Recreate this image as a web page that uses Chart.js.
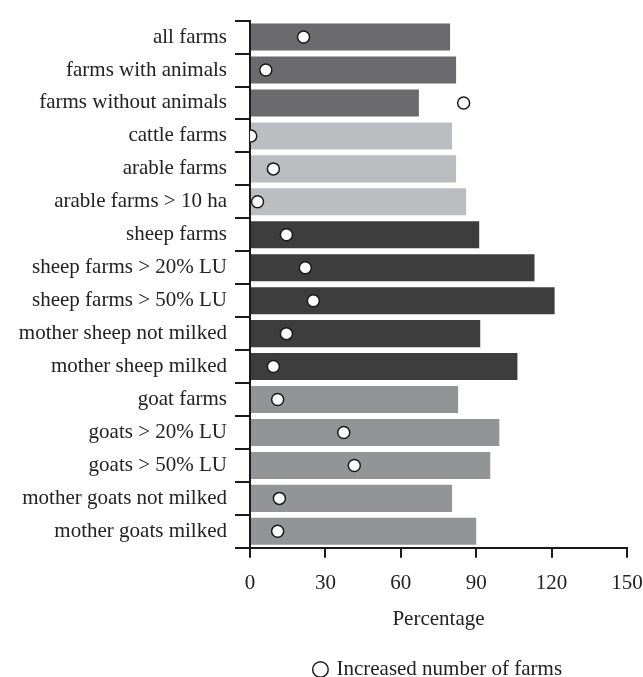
<!DOCTYPE html>
<html>
<head>
<meta charset="utf-8">
<script src="https://cdn.jsdelivr.net/npm/chart.js@4.4.1/dist/chart.umd.min.js"></script>
<style>
  html, body { margin: 0; padding: 0; background: #fff; }
  #wrap { width: 643px; height: 677px; }
</style>
</head>
<body>
<div id="wrap"><canvas id="chart"></canvas></div>
<script>
// farm types, top to bottom
const categories = [
    'all farms', 'farms with animals', 'farms without animals',
    'cattle farms', 'arable farms', 'arable farms > 10 ha',
    'sheep farms', 'sheep farms > 20% LU', 'sheep farms > 50% LU',
    'mother sheep not milked', 'mother sheep milked',
    'goat farms', 'goats > 20% LU', 'goats > 50% LU',
    'mother goats not milked', 'mother goats milked'
];
// bar length (percentage)
const percentage = [79.6, 82, 67.2, 80.4, 82, 86, 91.2, 113.2, 121.2, 91.6, 106.4, 82.8, 99.2, 95.6, 80.4, 90];
// open circles: increased number of farms
const increased = [21.3, 6.3, 85, 0.3, 9.3, 3, 14.5, 22, 25.2, 14.5, 9.3, 11, 37.3, 41.5, 11.7, 11];
const groups = ['mixed', 'mixed', 'mixed', 'crop', 'crop', 'crop', 'sheep', 'sheep', 'sheep', 'sheep', 'sheep', 'goat', 'goat', 'goat', 'goat', 'goat'];
const xTicks = [0, 30, 60, 90, 120, 150];

const groupColors = { mixed: '#6b6b6e', crop: '#bcbdc0', sheep: '#3d3d3d', goat: '#939496' };
const serif = '"Liberation Serif", "Times New Roman", serif';

// the legend hugs the bottom edge in the original
const lowerLegend = {
    id: 'lowerLegend',
    afterLayout(chart) {
        chart.legend.top += 13;
        chart.legend.bottom += 13;
    }
};

new Chart(document.getElementById('chart'), {
    data: {
        labels: categories,
        datasets: [
            {
                type: 'line',
                label: 'Increased number of farms',
                data: increased,
                showLine: false,
                pointRadius: 6,
                pointHoverRadius: 6,
                pointBackgroundColor: '#ffffff',
                pointBorderColor: '#1a1a1a',
                pointBorderWidth: 1.5,
                backgroundColor: '#ffffff',
                borderColor: '#1a1a1a',
                borderWidth: 1.5,
                order: 0
            },
            {
                type: 'bar',
                label: 'Percentage',
                data: percentage,
                backgroundColor: groups.map(g => groupColors[g]),
                categoryPercentage: 1,
                barPercentage: 0.82,
                order: 1
            }
        ]
    },
    plugins: [lowerLegend],
    options: {
        indexAxis: 'y',
        responsive: true,
        maintainAspectRatio: false,
        animation: false,
        layout: { padding: { top: 20, right: 0, left: 6, bottom: 0 } },
        plugins: {
            legend: {
                position: 'bottom',
                fullSize: false,
                labels: {
                    filter: item => item.datasetIndex === 0,
                    usePointStyle: true,
                    boxWidth: 11,
                    boxHeight: 11,
                    color: '#222',
                    font: { family: serif, size: 21 },
                    padding: 3
                }
            },
            tooltip: { enabled: false }
        },
        scales: {
            x: {
                min: 0,
                max: 150,
                afterBuildTicks: axis => { axis.ticks = xTicks.map(v => ({ value: v })); },
                afterFit: axis => { axis.paddingRight = 16; },
                border: { color: '#1a1a1a', width: 2 },
                grid: { drawOnChartArea: false, drawTicks: true, tickLength: 10, color: '#1a1a1a', lineWidth: 2 },
                ticks: { color: '#222', font: { family: serif, size: 21 }, padding: 13 },
                title: {
                    display: true,
                    text: 'Percentage',
                    color: '#222',
                    font: { family: serif, size: 21, lineHeight: 1 },
                    padding: { top: 0, bottom: 13 }
                }
            },
            y: {
                offset: true,
                afterFit: axis => { axis.width = 244; },
                border: { color: '#1a1a1a', width: 2 },
                grid: { offset: true, drawOnChartArea: false, drawTicks: true, tickLength: 15, color: '#1a1a1a', lineWidth: 2 },
                ticks: { color: '#222', font: { family: serif, size: 21 }, padding: 8, autoSkip: false }
            }
        }
    }
});
</script>
</body>
</html>
